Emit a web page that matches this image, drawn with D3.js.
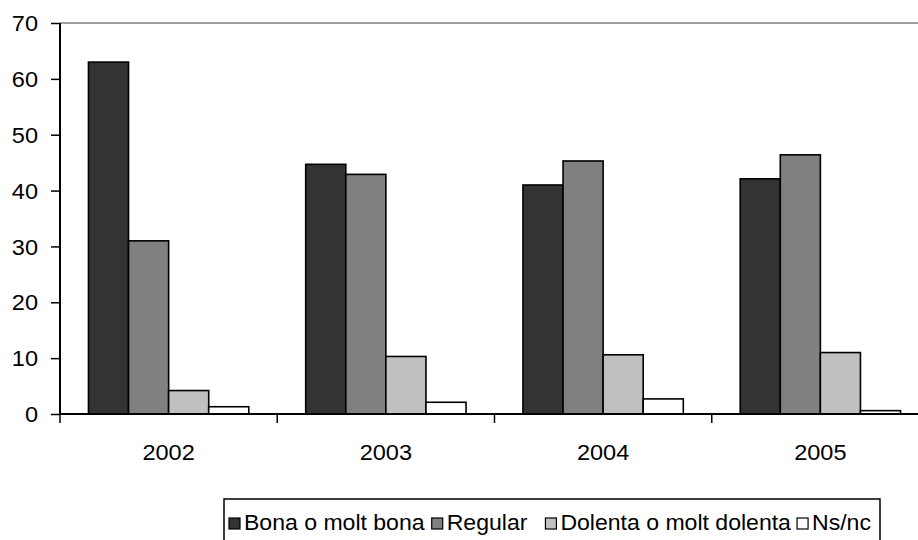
<!DOCTYPE html>
<html>
<head>
<meta charset="utf-8">
<script src="https://cdn.jsdelivr.net/npm/d3@7"></script>
<style>
  body { margin: 0; background: #fff; }
  svg { display: block; font-family: "Liberation Sans", Arial, sans-serif; }
</style>
</head>
<body>
<div id="graph"></div>
<script>
var years = ["2002", "2003", "2004", "2005"]
var series = ["Bona o molt bona", "Regular", "Dolenta o molt dolenta", "Ns/nc"]
var colors = ["#333333", "#808080", "#c0c0c0", "#ffffff"]

var bona = [63, 44.7, 41.0, 42.1]
var regular = [31.0, 42.9, 45.3, 46.4]
var dolenta = [4.2, 10.3, 10.6, 11.0]
var nsnc = [1.3, 2.1, 2.7, 0.6]

var yTicks = [0, 10, 20, 30, 40, 50, 60, 70]

const width = 918
const height = 540
const fontSize = 22
const stretch = 1.07   // text in the picture is a bit wider than the font

const svg = d3.select("#graph")
    .append("svg")
        .attr("width", width)
        .attr("height", height)

const x0 = d3.scaleBand().domain(years).range([60, 929]).padding(0)
const x1 = d3.scaleBand().domain(series).range([0, x0.bandwidth()]).paddingInner(0).paddingOuter(0.71)
const y = d3.scaleLinear().domain([0, 70]).range([414, 23])

const values = [bona, regular, dolenta, nsnc]

// grey top border of plot area
svg.append("line")
    .attr("x1", 60).attr("x2", width)
    .attr("y1", y(70)).attr("y2", y(70))
    .attr("stroke", "#a0a0a0")
    .attr("stroke-width", 2)

// bars
years.forEach((yr, i) => {
    const g = svg.append("g").attr("transform", `translate(${x0(yr)},0)`)
    series.forEach((s, j) => {
        const v = values[j][i]
        g.append("rect")
            .attr("x", x1(s))
            .attr("y", y(v))
            .attr("width", x1.bandwidth())
            .attr("height", y(0) - y(v))
            .attr("fill", colors[j])
            .attr("stroke", "#000")
            .attr("stroke-width", 1.6)
    })
})

// y axis
const yAxis = svg.append("g")
    .attr("transform", "translate(60,0)")
    .call(d3.axisLeft(y).tickValues(yTicks).tickSize(9).tickPadding(0).tickFormat(d3.format("d")))
yAxis.select(".domain").attr("stroke", "#000").attr("stroke-width", 2).attr("d", `M0,${y(70)}V${y(0)}`)
yAxis.selectAll(".tick line").attr("stroke", "#000").attr("stroke-width", 1.5)
yAxis.selectAll(".tick text")
    .attr("x", -22 / stretch)
    .attr("dy", "0.35em")
    .attr("transform", `scale(${stretch},1)`)
    .attr("font-size", fontSize).attr("fill", "#000")
    .attr("font-family", "Liberation Sans, Arial, sans-serif")

// x axis
svg.append("line")
    .attr("x1", 60).attr("x2", width)
    .attr("y1", y(0)).attr("y2", y(0))
    .attr("stroke", "#000").attr("stroke-width", 2)

years.forEach(yr => {
    svg.append("line")
        .attr("x1", x0(yr)).attr("x2", x0(yr))
        .attr("y1", y(0)).attr("y2", y(0) + 9)
        .attr("stroke", "#000").attr("stroke-width", 1.5)
})

const xAxis = svg.append("g")
    .attr("transform", `translate(0,${y(0)})`)
    .call(d3.axisBottom(x0).tickSize(0))
xAxis.select(".domain").remove()
xAxis.selectAll(".tick text")
    .attr("y", 46).attr("dy", 0)
    .attr("transform", `scale(${stretch},1)`)
    .attr("font-size", fontSize).attr("fill", "#000")
    .attr("font-family", "Liberation Sans, Arial, sans-serif")

// legend
const box = { x: 224, y: 499, w: 656 }
svg.append("rect")
    .attr("x", box.x).attr("y", box.y)
    .attr("width", box.w).attr("height", 60)
    .attr("fill", "#fff")
    .attr("stroke", "#000").attr("stroke-width", 1.5)

const legend = svg.append("g").attr("transform", `translate(${box.x},530)`)
const items = legend.selectAll("g.item").data(series).enter().append("g").attr("class", "item")
items.append("rect")
    .attr("y", -12)
    .attr("width", 11).attr("height", 11)
    .attr("fill", (d, j) => colors[j])
    .attr("stroke", "#000").attr("stroke-width", 1.2)
items.append("text")
    .attr("x", 15)
    .attr("font-size", fontSize)
    .attr("fill", "#000")
    .text(d => d)

// fit the entries into the box, Excel leaves a wider gap after "Regular"
const lens = []
items.selectAll("text").each(function () { lens.push(this.getComputedTextLength()) })
const total = d3.sum(lens)
const gaps = [7, 18, 6]
const sx = (box.w - 14 - 4 * 15 - d3.sum(gaps)) / total
items.selectAll("text").attr("transform", `scale(${sx},1)`).attr("x", 15 / sx)
let lx = 5
items.each(function (d, j) {
    d3.select(this).attr("transform", `translate(${lx},0)`)
    lx += 15 + lens[j] * sx + (gaps[j] || 0)
})
</script>
</body>
</html>
